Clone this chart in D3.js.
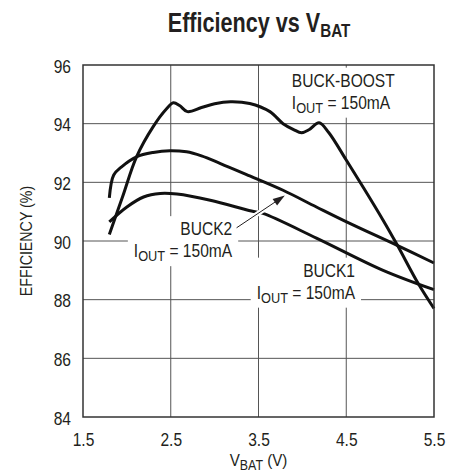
<!DOCTYPE html>
<html lang="en">
<head>
  <meta charset="UTF-8" />
  <title>Efficiency vs VBAT</title>
  <script src="https://d3js.org/d3.v7.min.js"></script>
  <style>
    body {
      margin: 0;
      background: #fff;
    }
    svg text {
      font-family: "Liberation Sans", Arial, sans-serif;
      fill: #231f20;
    }
  </style>
</head>
<body>
  <div id="chart"></div>

  <script>
    // values
    const buckBoostV = [1.80, 1.95, 2.11, 2.30, 2.45, 2.53, 2.60, 2.69, 2.85, 3.00, 3.18, 3.40, 3.63, 3.78, 3.90, 3.99, 4.08, 4.19, 4.30, 4.50, 4.70, 4.92, 5.08, 5.32, 5.50];
    const buckBoostEff = [90.22, 91.5, 92.87, 93.9, 94.5, 94.71, 94.62, 94.41, 94.55, 94.68, 94.75, 94.69, 94.41, 94.0, 93.8, 93.69, 93.8, 94.03, 93.7, 92.76, 91.8, 90.71, 89.87, 88.55, 87.7];

    const buck2V = [1.80, 1.85, 1.94, 2.11, 2.30, 2.49, 2.68, 2.85, 3.06, 3.40, 3.78, 4.16, 4.54, 5.08, 5.50];
    const buck2Eff = [91.47, 92.25, 92.53, 92.87, 93.02, 93.08, 93.04, 92.9, 92.65, 92.22, 91.73, 91.16, 90.6, 89.85, 89.25];

    const buck1V = [1.80, 2.00, 2.19, 2.38, 2.57, 2.95, 3.42, 3.55, 4.16, 4.92, 5.50];
    const buck1Eff = [90.65, 91.16, 91.5, 91.62, 91.6, 91.39, 91.02, 90.94, 90.1, 89.0, 88.34];

    const xTicks = [1.5, 2.5, 3.5, 4.5, 5.5];
    const yTicks = [84, 86, 88, 90, 92, 94, 96];

    const W = 459, H = 472;
    const margin = { left: 83, top: 65, right: 25, bottom: 55 };
    const iw = W - margin.left - margin.right;
    const ih = H - margin.top - margin.bottom;
    const SQ = 0.89; // squeeze, the original face is a condensed one

    const svg = d3.select("#chart").append("svg")
      .attr("width", W)
      .attr("height", H);

    const x = d3.scaleLinear().domain([1.5, 5.5]).range([0, iw]);
    const y = d3.scaleLinear().domain([84, 96]).range([ih, 0]);

    const g = svg.append("g").attr("transform", `translate(${margin.left},${margin.top})`);

    // grid
    g.append("g").selectAll("line")
      .data(xTicks.slice(1, -1))
      .join("line")
      .attr("x1", d => x(d)).attr("x2", d => x(d))
      .attr("y1", 0).attr("y2", ih)
      .attr("stroke", "#555").attr("stroke-width", 1);
    g.append("g").selectAll("line")
      .data(yTicks.slice(1, -1))
      .join("line")
      .attr("x1", 0).attr("x2", iw)
      .attr("y1", d => y(d)).attr("y2", d => y(d))
      .attr("stroke", "#555").attr("stroke-width", 1);

    // tick labels
    const xAxis = g.append("g")
      .attr("transform", `translate(0,${ih})`)
      .call(d3.axisBottom(x).tickValues(xTicks).tickSize(0).tickPadding(12).tickFormat(d3.format(".1f")));
    const yAxis = g.append("g")
      .call(d3.axisLeft(y).tickValues(yTicks).tickSize(0).tickPadding(12).tickFormat(d3.format("d")));
    [xAxis, yAxis].forEach(a => {
      a.select(".domain").remove();
      a.attr("font-family", null).attr("font-size", null);
      a.selectAll("text")
        .attr("font-size", 17.5)
        .attr("transform", `scale(${SQ},1)`);
    });
    xAxis.selectAll("text").attr("dy", "0.95em");
    yAxis.selectAll("text").attr("dy", "0.4em").attr("x", -12 / SQ);

    function sub(textSel, base, subTxt, rest) {
      textSel.append("tspan").text(base);
      textSel.append("tspan").attr("font-size", "0.82em").attr("dy", 4).text(subTxt);
      textSel.append("tspan").attr("dy", -4).text(rest);
    }

    // squeezed text placed at (tx, ty)
    function ntext(parent, tx, ty, size, anchor, sq = SQ) {
      return parent.append("g")
        .attr("transform", `translate(${tx},${ty}) scale(${sq},1)`)
        .append("text")
        .attr("text-anchor", anchor)
        .attr("font-size", size);
    }

    // curve labels on white boxes
    function label(lines, tx, ty, anchor) {
      const lg = g.append("g");
      const box = lg.append("rect").attr("fill", "#fff");
      lines.forEach((ln, i) => {
        const t = ntext(lg, tx, ty + i * 22, 17.5, anchor);
        if (Array.isArray(ln)) sub(t, ...ln); else t.text(ln);
      });
      const bb = lg.node().getBBox();
      box.attr("x", bb.x - 6).attr("y", bb.y - 3)
        .attr("width", bb.width + 12).attr("height", bb.height + 5);
      return lg;
    }

    const line = d3.line()
      .x(d => x(d[0]))
      .y(d => y(d[1]))
      .curve(d3.curveCatmullRom.alpha(0.5));

    const series = [
      d3.zip(buck1V, buck1Eff),
      d3.zip(buck2V, buck2Eff),
      d3.zip(buckBoostV, buckBoostEff)
    ];

    label(["BUCK-BOOST", ["I", "OUT", " = 150mA"]], x(3.88), 86.5 - margin.top, "start");
    label(["BUCK2", ["I", "OUT", " = 150mA"]], x(3.2), 235 - margin.top, "end");
    label(["BUCK1", ["I", "OUT", " = 150mA"]], x(4.6), 276.5 - margin.top, "end");

    g.append("g").selectAll("path")
      .data(series)
      .join("path")
      .attr("fill", "none")
      .attr("stroke", "#111")
      .attr("stroke-width", 3)
      .attr("stroke-linejoin", "round")
      .attr("d", line);

    // arrow from BUCK2 label to its curve
    const ax0 = [3.25, 90.45], ax1 = [3.8, 91.55];
    g.append("line")
      .attr("x1", x(ax0[0])).attr("y1", y(ax0[1]))
      .attr("x2", x(ax1[0])).attr("y2", y(ax1[1]))
      .attr("stroke", "#fff").attr("stroke-width", 5);
    g.append("line")
      .attr("x1", x(ax0[0])).attr("y1", y(ax0[1]))
      .attr("x2", x(ax1[0]) - 6).attr("y2", y(ax1[1]) + 4)
      .attr("stroke", "#231f20").attr("stroke-width", 1);
    const ang = Math.atan2(y(ax1[1]) - y(ax0[1]), x(ax1[0]) - x(ax0[0]));
    g.append("path")
      .attr("transform", `translate(${x(ax1[0])},${y(ax1[1])}) rotate(${ang * 180 / Math.PI})`)
      .attr("d", "M0,0 L-12,-4 L-12,4 Z")
      .attr("fill", "#231f20");

    // frame
    g.append("rect")
      .attr("width", iw).attr("height", ih)
      .attr("fill", "none")
      .attr("stroke", "#333").attr("stroke-width", 1.5);

    // title
    const title = ntext(svg, 259, 32, 27, "middle", 0.8).attr("font-weight", "bold");
    title.append("tspan").text("Efficiency vs V");
    title.append("tspan").attr("font-size", 19).attr("dy", 5).text("BAT");

    // axis titles
    const xt = ntext(svg, margin.left + iw / 2, 466, 17, "middle");
    sub(xt, "V", "BAT", " (V)");

    svg.append("g")
      .attr("transform", `translate(32,${margin.top + ih / 2}) rotate(-90) scale(${SQ},1)`)
      .append("text")
      .attr("text-anchor", "middle")
      .attr("font-size", 16)
      .text("EFFICIENCY (%)");
  </script>
</body>
</html>
